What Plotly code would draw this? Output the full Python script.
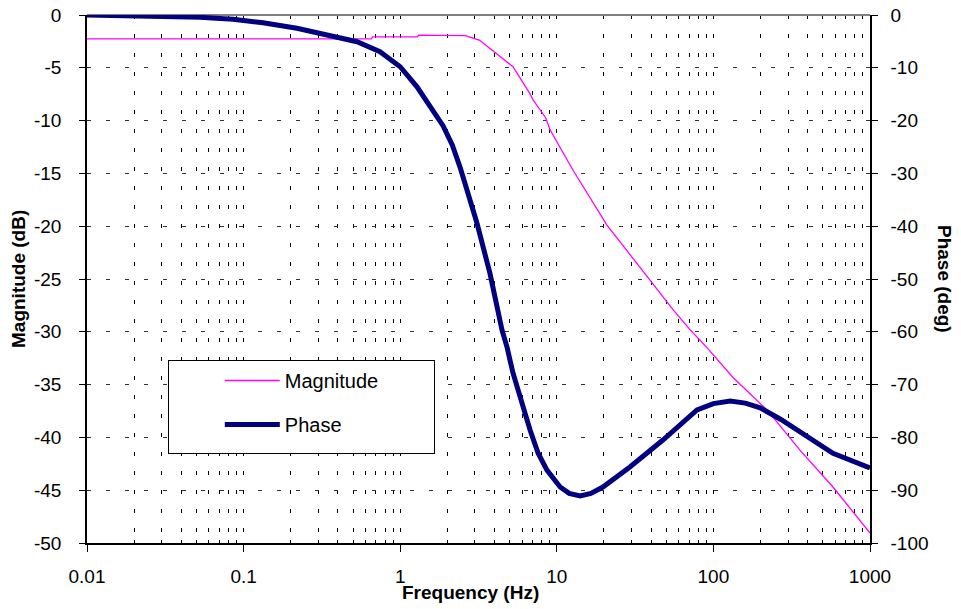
import plotly.graph_objects as go

# Frequency response: magnitude (dB, left axis) and phase (deg, right axis)
mag_freq = [0.01, 0.655, 0.665, 1.29, 1.31, 2.4, 2.6, 3.2, 4.1, 5.25, 6.7, 7.07, 8.5,
            9.07, 12.7, 14.1, 20.9, 34.0, 55.2, 70.9, 91.0, 133.0, 220.0, 357.0, 580.0, 1000.0]
mag_db = [-2.27, -2.27, -2.08, -2.08, -1.90, -1.90, -1.95, -2.37, -3.6, -4.9, -7.4, -8.05, -9.75,
          -10.9, -14.7, -15.8, -19.9, -23.9, -27.9, -29.8, -31.5, -34.3, -37.4, -41.2, -44.7, -49.05]

phase_freq = [0.01, 0.0218, 0.0527, 0.0855, 0.133, 0.219, 0.356, 0.53, 0.743, 1.0, 1.28, 1.55,
              1.88, 2.15, 2.41, 3.09, 3.74, 4.47, 4.81, 5.25, 6.0, 6.75, 7.6, 8.65, 10.5, 12.0,
              14.1, 16.5, 19.7, 29.3, 47.6, 78.6, 100.0, 128.0, 160.0, 199.0, 270.0, 357.0,
              580.0, 1000.0]
phase_deg = [0.0, -0.1, -0.44, -0.8, -1.46, -2.5, -3.8, -5.06, -6.95, -9.8, -13.6, -17.4,
             -21.0, -24.6, -28.8, -39.4, -48.9, -59.7, -62.9, -67.8, -73.8, -78.6, -83.0, -86.2,
             -89.4, -90.6, -91.1, -90.6, -89.4, -85.6, -80.5, -74.8, -73.6, -73.1, -73.5, -74.4,
             -76.6, -79.0, -83.0, -85.8]

freq_ticks = [0.01, 0.1, 1, 10, 100, 1000]
freq_tick_text = ["0.01", "0.1", "1", "10", "100", "1000"]
minor_freqs = [m * d for d in [0.01, 0.1, 1, 10, 100] for m in range(2, 10)]
mag_ticks = list(range(0, -55, -5))
phase_ticks = list(range(0, -110, -10))

FONT = "Arial, Liberation Sans, sans-serif"
GRID_DASH = "4px,15px"
PAD = "\u00a0"

fig = go.Figure()
fig.add_trace(go.Scatter(
    x=mag_freq, y=mag_db, name="Magnitude" + PAD * 9, mode="lines", legendgroup="mag",
    line=dict(color="#FF00FF", width=1.3), yaxis="y"))
fig.add_trace(go.Scatter(
    x=phase_freq, y=phase_deg, name="Phase", mode="lines", legendgroup="phase",
    line=dict(color="#000080", width=5), yaxis="y2"))

fig.update_layout(
    width=961, height=609,
    margin=dict(l=87, r=91, t=15, b=66),
    paper_bgcolor="white", plot_bgcolor="white",
    font=dict(family=FONT, size=19, color="black"),
    showlegend=True,
    legend=dict(
        x=0.1034, y=0.3466, xanchor="left", yanchor="top",
        bgcolor="white", bordercolor="black", borderwidth=1,
        font=dict(family=FONT, size=20, color="black"),
        itemwidth=55, tracegroupgap=15,
        title=dict(text=PAD * 7 + "<br>" + PAD + "<br>" + PAD, side="left",
                   font=dict(size=21)),
    ),
    xaxis=dict(
        type="log", range=[-2, 3], automargin=False,
        tickmode="array", tickvals=freq_ticks, ticktext=freq_tick_text,
        ticks="outside", ticklen=7, tickwidth=1, tickcolor="black",
        showline=True, linecolor="black", linewidth=1.5,
        showgrid=True, gridcolor="black", gridwidth=1, griddash=GRID_DASH,
        minor=dict(tickmode="array", tickvals=minor_freqs, ticks="inside", ticklen=3,
                   tickcolor="black", showgrid=True, gridcolor="black", gridwidth=1,
                   griddash=GRID_DASH),
        ticklabelstandoff=8,
        tickfont=dict(size=19),
        zeroline=False,
    ),
    yaxis=dict(
        range=[-50, 0], automargin=False,
        tickmode="array", tickvals=mag_ticks, ticktext=[str(v) for v in mag_ticks],
        ticks="outside", ticklen=6, tickcolor="black",
        showline=True, linecolor="black", linewidth=1.5,
        showgrid=True, gridcolor="#333333", gridwidth=1, griddash=GRID_DASH,
        zeroline=True, zerolinecolor="#808080", zerolinewidth=1.5,
        ticklabelstandoff=14,
        tickfont=dict(size=19),
    ),
    yaxis2=dict(
        range=[-100, 0], automargin=False,
        tickmode="array", tickvals=phase_ticks, ticktext=[str(v) for v in phase_ticks],
        overlaying="y", side="right",
        ticks="outside", ticklen=6, tickcolor="black",
        showline=True, linecolor="black", linewidth=1.5,
        showgrid=False, zeroline=False,
        ticklabelstandoff=9,
        tickfont=dict(size=19),
    ),
    annotations=[
        dict(text="<b>Phase (deg)</b>", textangle=90, xref="paper", yref="paper",
             x=1.0, y=0.5, xshift=75, showarrow=False, font=dict(size=19, family=FONT),
             xanchor="center", yanchor="middle"),
        dict(text="<b>Magnitude (dB)</b>", textangle=-90, xref="paper", yref="paper",
             x=0.0, y=0.5, xshift=-69, showarrow=False, font=dict(size=19, family=FONT),
             xanchor="center", yanchor="middle"),
        dict(text="<b>Frequency (Hz)</b>", xref="paper", yref="paper",
             x=0.49, y=0.0, yshift=-49, showarrow=False, font=dict(size=19, family=FONT),
             xanchor="center", yanchor="middle"),
    ],
)

fig.write_html("out.html")
